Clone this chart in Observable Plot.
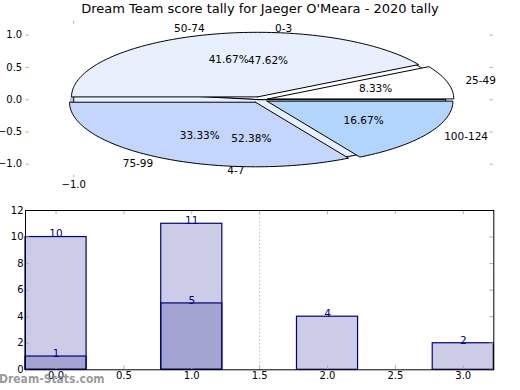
<!DOCTYPE html>
<html><head><meta charset="utf-8">
<script src="https://cdn.jsdelivr.net/npm/d3@7"></script>
<script src="https://cdn.jsdelivr.net/npm/@observablehq/plot@0.6"></script>
<style>
body{margin:0;background:#fff;}
#root{position:relative;width:520px;height:390px;font-family:"DejaVu Sans",sans-serif;overflow:hidden;background:#fff;}
#root svg{position:absolute;left:0;}
.title{position:absolute;top:1px;left:0;width:520px;text-align:center;font-size:13px;line-height:16px;color:#000;z-index:5;white-space:nowrap;}
.wm{position:absolute;left:-1px;top:372px;font-size:12px;line-height:15px;color:rgba(120,120,120,0.75);font-weight:bold;z-index:5;font-stretch:condensed;}
</style></head><body><div id="root"></div>
<script>
const chartTitle = "Dream Team score tally for Jaeger O'Meara - 2020 tally";
const watermark = "Dream-Stats.com";
const pieALabels = ["0-3", "4-7"];
const pieAValues = [10, 11];
const pieAColors = ["#ffffff", "#e8f0fe"];
const pieBLabels = ["25-49", "50-74", "75-99", "100-124"];
const pieBValues = [1, 5, 4, 2];
const pieBColors = ["#ffffff", "#e8f0fe", "#c4d5fe", "#b2d5fe"];
const pieYTicks = [-1, -0.5, 0, 0.5, 1];
const pieXTicks = [-1];
const barAX = [0, 1];
const barAValues = [10, 11];
const barBX = [0, 1, 2, 3];
const barBValues = [1, 5, 4, 2];
const barXTicks = [0, 0.5, 1, 1.5, 2, 2.5, 3];
const barYTicks = [0, 2, 4, 6, 8, 10, 12];

const root = document.getElementById("root");
const fmt1 = d => (d < 0 ? "\u2212" : "") + Math.abs(d).toFixed(1);

function pieGeom(values, labels, colors, explode, key) {
  const total = d3.sum(values);
  const poly = [], outer = [], inner = [];
  let cum = 0;
  values.forEach((v, i) => {
    const a0 = 2 * Math.PI * cum / total, a1 = 2 * Math.PI * (cum + v) / total;
    cum += v;
    const m = (a0 + a1) / 2, ox = explode * Math.cos(m), oy = explode * Math.sin(m);
    const id = key + i;
    poly.push({id, x: ox, y: oy, c: colors[i]});
    const n = Math.max(4, Math.ceil((a1 - a0) * 40));
    for (let j = 0; j <= n; j++) {
      const a = a0 + (a1 - a0) * j / n;
      poly.push({id, x: ox + Math.cos(a), y: oy + Math.sin(a), c: colors[i]});
    }
    poly.push({id, x: ox, y: oy, c: colors[i]});
    const lx = ox + 1.1 * Math.cos(m), ly = oy + 1.1 * Math.sin(m);
    outer.push({x: lx, y: ly, t: labels[i], side: lx >= 0 ? "start" : "end"});
    inner.push({x: ox + 0.6 * Math.cos(m), y: oy + 0.6 * Math.sin(m), t: (100 * v / total).toFixed(2) + "%"});
  });
  return {poly, outer, inner};
}

const A = pieGeom(pieAValues, pieALabels, pieAColors, 0, "a");
const B = pieGeom(pieBValues, pieBLabels, pieBColors, 0.045, "b");
const shadow = A.poly.map(d => ({...d, x: d.x - 0.02, y: d.y - 0.025}));
const outerAll = [...A.outer, ...B.outer];
const innerAll = [...A.inner, ...B.inner];

const pW = 520 - 26.7 - 28.3, pH = 200 - 21.7 - 23.3;
const pie = Plot.plot({
  width: 520, height: 200,
  marginTop: 21.7, marginBottom: 23.3, marginLeft: 26.7, marginRight: 28.3,
  x: {domain: [-1.25, 1.25], axis: null},
  y: {domain: [-1.2, 1.2], axis: null},
  color: {type: "identity"},
  style: {fontFamily: "DejaVu Sans", fontSize: "10px", background: "transparent", overflow: "visible"},
  marks: [
    Plot.line(shadow, {x: "x", y: "y", z: "id", fill: "#555", fillOpacity: 0.35, stroke: "none"}),
    Plot.line(A.poly, {x: "x", y: "y", z: "id", fill: "c", stroke: "black", strokeWidth: 1}),
    Plot.line(B.poly, {x: "x", y: "y", z: "id", fill: "c", stroke: "black", strokeWidth: 1}),
    Plot.text(outerAll.filter(d => d.side === "start"), {x: "x", y: "y", text: "t", textAnchor: "start", fontSize: 10.5}),
    Plot.text(outerAll.filter(d => d.side === "end"), {x: "x", y: "y", text: "t", textAnchor: "end", fontSize: 10.5}),
    Plot.text(innerAll, {x: "x", y: "y", text: "t", fontSize: 10.5}),
    Plot.ruleY(pieYTicks, {y: d => d, stroke: "#b0b0b0", insetLeft: -1, insetRight: pW - 2}),
    Plot.ruleY(pieYTicks, {y: d => d, stroke: "#b0b0b0", insetLeft: pW - 2, insetRight: -1}),
    Plot.ruleX(pieXTicks, {x: d => d, stroke: "#b0b0b0", insetTop: -1, insetBottom: pH - 2}),
    Plot.ruleX(pieXTicks, {x: d => d, stroke: "#b0b0b0", insetTop: pH - 2, insetBottom: -1}),
    Plot.text(pieYTicks, {y: d => d, frameAnchor: "left", textAnchor: "end", dx: -5, text: fmt1, fontSize: 10}),
    Plot.text(pieXTicks, {x: d => d, frameAnchor: "bottom", dy: 11, text: fmt1, fontSize: 10})
  ]
});
pie.style.top = "0px";
root.appendChild(pie);

const barA = barAX.map((x, i) => ({x, v: barAValues[i]}));
const barB = barBX.map((x, i) => ({x, v: barBValues[i]}));
const bW = 520 - 25 - 26.7, bH = 190 - 10 - 20.7;
const half = 0.225;
const bars = Plot.plot({
  width: 520, height: 190,
  marginTop: 10, marginBottom: 20.7, marginLeft: 25, marginRight: 26.7,
  x: {domain: [-0.225, 3.225], axis: null},
  y: {domain: [0, 12], axis: null},
  style: {fontFamily: "DejaVu Sans", fontSize: "10px", background: "transparent", overflow: "visible"},
  marks: [
    Plot.ruleX([1.5], {x: d => d, stroke: "#b0b0b0", strokeDasharray: "1.2,2.5"}),
    Plot.rect(barB, {x1: d => d.x - half, x2: d => d.x + half, y1: 0, y2: "v", fill: "navy", fillOpacity: 0.2, stroke: "navy", strokeWidth: 1.2}),
    Plot.rect(barA, {x1: d => d.x - half, x2: d => d.x + half, y1: 0, y2: "v", fill: "navy", fillOpacity: 0.2, stroke: "navy", strokeWidth: 1.2}),
    Plot.ruleX(barXTicks, {x: d => d, stroke: "#b0b0b0", strokeWidth: 1, insetTop: bH - 4}),
    Plot.ruleX(barXTicks, {x: d => d, stroke: "#b0b0b0", strokeWidth: 1, insetBottom: bH - 4}),
    Plot.ruleY(barYTicks, {y: d => d, stroke: "#b0b0b0", strokeWidth: 1, insetRight: bW - 4}),
    Plot.ruleY(barYTicks, {y: d => d, stroke: "#b0b0b0", strokeWidth: 1, insetLeft: bW - 4}),
    Plot.frame({stroke: "black"}),
    Plot.text([...barA, ...barB], {x: "x", y: "v", text: d => String(d.v), fill: "navy", dy: -3, fontSize: 10.5}),
    Plot.text(barXTicks, {x: d => d, frameAnchor: "bottom", dy: 9, text: d => d.toFixed(1), fontSize: 10}),
    Plot.text(barYTicks, {y: d => d, frameAnchor: "left", textAnchor: "end", dx: -2, text: d => String(d), fontSize: 10})
  ]
});
bars.style.top = "200px";
root.appendChild(bars);

const t = document.createElement("div");
t.className = "title";
t.textContent = chartTitle;
root.appendChild(t);
const w = document.createElement("div");
w.className = "wm";
w.textContent = watermark;
root.appendChild(w);
</script>
</body></html>
